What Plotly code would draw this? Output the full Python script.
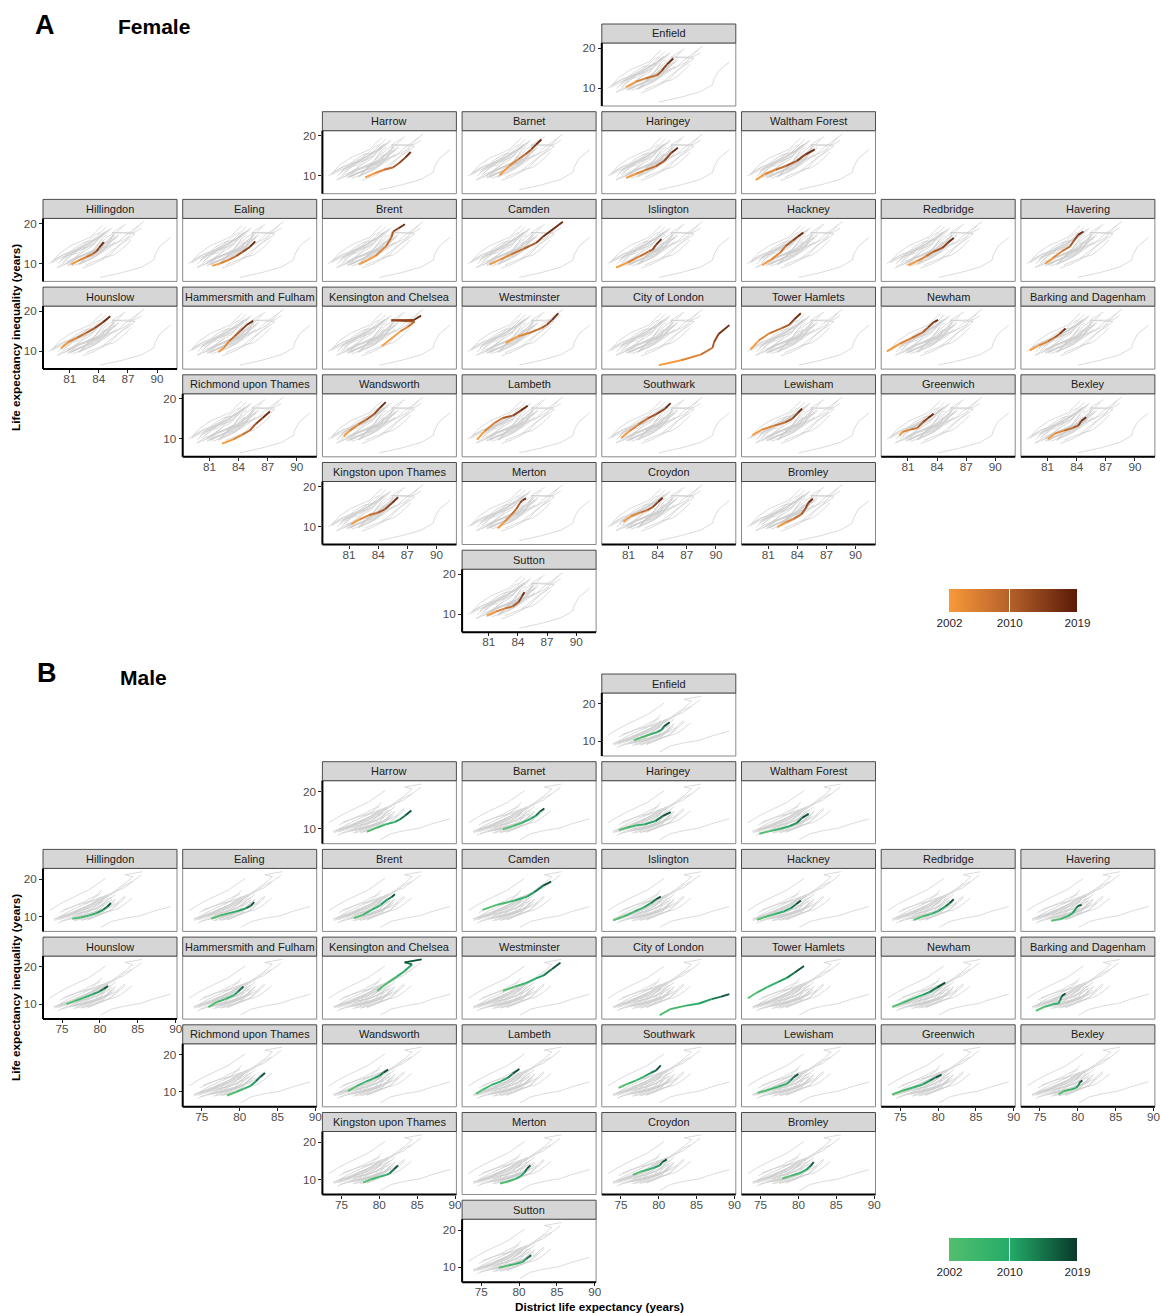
import plotly.graph_objects as go
from plotly.colors import sample_colorscale

# ---------------------------------------------------------------------------
# Data: London boroughs on a geographic grid, with district life expectancy
# and life expectancy inequality trajectories (2002-2019) by sex.
# ---------------------------------------------------------------------------
BOROUGHS = [
    "Enfield",
    "Harrow", "Barnet", "Haringey", "Waltham Forest",
    "Hillingdon", "Ealing", "Brent", "Camden", "Islington", "Hackney", "Redbridge", "Havering",
    "Hounslow", "Hammersmith and Fulham", "Kensington and Chelsea", "Westminster",
    "City of London", "Tower Hamlets", "Newham", "Barking and Dagenham",
    "Richmond upon Thames", "Wandsworth", "Lambeth", "Southwark", "Lewisham", "Greenwich", "Bexley",
    "Kingston upon Thames", "Merton", "Croydon", "Bromley",
    "Sutton",
]
GRID_ROW = [1, 2, 2, 2, 2, 3, 3, 3, 3, 3, 3, 3, 3, 4, 4, 4, 4, 4, 4, 4, 4,
            5, 5, 5, 5, 5, 5, 5, 6, 6, 6, 6, 7]
GRID_COL = [5, 3, 4, 5, 6, 1, 2, 3, 4, 5, 6, 7, 8, 1, 2, 3, 4, 5, 6, 7, 8,
            2, 3, 4, 5, 6, 7, 8, 3, 4, 5, 6, 4]

YEARS = [2002, 2005, 2008, 2011, 2014, 2017, 2019]

# Female district life expectancy (years), one row per borough
FEMALE_LE = [
    [80.75, 81.75, 82.74, 83.95, 84.43, 84.95, 85.61],
    [82.67, 83.66, 84.58, 85.50, 86.13, 86.79, 87.34],
    [82.11, 83.11, 84.03, 84.76, 85.39, 85.87, 86.42],
    [80.75, 81.75, 82.74, 83.77, 84.69, 85.43, 86.09],
    [79.72, 80.64, 81.75, 82.85, 83.95, 84.87, 85.79],
    [81.19, 81.93, 82.67, 83.40, 83.77, 84.06, 84.51],
    [81.30, 82.11, 83.03, 83.77, 84.43, 85.17, 85.72],
    [82.04, 83.70, 84.80, 85.35, 85.54, 86.09, 86.75],
    [81.08, 82.19, 83.29, 84.58, 85.87, 86.60, 88.63],
    [79.72, 80.90, 82.19, 83.11, 83.48, 83.84, 84.40],
    [80.38, 81.30, 82.22, 82.78, 83.51, 84.06, 84.62],
    [81.05, 81.97, 82.89, 83.62, 84.54, 85.09, 85.72],
    [80.75, 81.56, 82.48, 83.33, 83.77, 84.14, 84.69],
    [80.09, 80.83, 81.75, 82.67, 83.59, 84.43, 85.17],
    [81.93, 82.48, 83.03, 83.59, 84.21, 84.87, 85.50],
    [84.36, 86.27, 87.08, 87.74, 85.35, 87.67, 88.41],
    [82.74, 84.03, 85.13, 86.42, 86.97, 87.52, 88.15],
    [84.14, 86.42, 88.44, 89.66, 89.81, 90.28, 91.39],
    [79.17, 80.02, 81.12, 82.41, 83.14, 83.70, 84.36],
    [78.84, 80.13, 81.41, 82.52, 83.07, 83.62, 84.10],
    [79.17, 80.09, 81.01, 81.75, 82.22, 82.59, 82.85],
    [82.30, 83.40, 84.42, 85.18, 85.80, 86.48, 87.24],
    [80.45, 81.06, 81.92, 82.78, 83.57, 84.15, 84.77],
    [79.79, 80.55, 81.58, 82.43, 83.46, 84.32, 85.01],
    [80.24, 81.09, 82.01, 82.94, 83.86, 84.78, 85.33],
    [79.36, 80.35, 81.64, 82.75, 83.49, 84.04, 84.49],
    [80.13, 80.43, 81.24, 81.98, 82.53, 83.08, 83.64],
    [81.02, 81.76, 82.68, 83.60, 84.15, 84.45, 84.97],
    [81.23, 82.09, 83.05, 83.98, 84.66, 85.45, 86.04],
    [81.92, 82.61, 83.29, 83.81, 84.22, 84.49, 84.84],
    [80.46, 81.28, 82.20, 82.94, 83.49, 84.04, 84.52],
    [81.94, 82.75, 83.67, 84.41, 84.78, 85.15, 85.59],
    [80.79, 81.75, 82.61, 83.46, 84.08, 84.42, 84.66],
]
# Female life expectancy inequality (years)
FEMALE_GAP = [
    [10.19, 11.59, 12.41, 13.23, 14.30, 15.95, 17.43],
    [9.61, 10.68, 11.51, 12.08, 13.15, 14.55, 15.95],
    [10.19, 12.49, 14.14, 15.37, 16.61, 17.84, 19.08],
    [9.45, 10.44, 11.42, 12.33, 13.73, 15.79, 17.02],
    [8.95, 10.44, 11.51, 12.49, 13.73, 15.37, 16.61],
    [9.78, 10.77, 11.59, 12.41, 13.07, 14.06, 15.37],
    [9.37, 10.02, 10.93, 11.84, 12.91, 14.14, 15.54],
    [9.78, 11.84, 14.30, 16.53, 18.01, 18.83, 19.82],
    [9.78, 11.01, 12.25, 13.65, 15.13, 16.77, 20.48],
    [8.95, 10.19, 11.84, 13.07, 13.48, 14.72, 16.12],
    [9.53, 11.01, 12.66, 14.30, 15.70, 16.77, 17.76],
    [9.53, 10.60, 11.84, 12.91, 13.89, 15.13, 16.36],
    [9.94, 11.42, 13.07, 14.30, 15.95, 17.18, 18.01],
    [10.68, 12.25, 13.32, 14.55, 15.79, 17.27, 18.75],
    [9.78, 10.85, 12.49, 13.73, 15.13, 16.61, 17.60],
    [11.26, 14.96, 16.12, 17.43, 17.76, 17.80, 18.91],
    [12.08, 13.73, 14.55, 15.79, 16.61, 17.84, 19.49],
    [6.49, 7.72, 9.12, 10.85, 12.25, 14.30, 16.53],
    [10.44, 12.66, 14.47, 15.79, 16.61, 18.01, 19.49],
    [9.94, 11.84, 13.32, 14.72, 15.95, 17.18, 17.84],
    [10.19, 11.42, 12.41, 13.48, 14.30, 15.13, 15.70],
    [8.82, 9.82, 11.07, 12.15, 13.81, 15.23, 16.89],
    [10.65, 12.06, 13.56, 14.81, 16.22, 17.72, 19.22],
    [9.82, 11.90, 13.98, 15.23, 15.81, 17.14, 18.30],
    [10.23, 11.90, 13.56, 15.06, 16.22, 17.56, 18.97],
    [10.90, 12.31, 13.31, 14.14, 15.06, 16.47, 17.56],
    [10.82, 11.73, 12.31, 12.73, 14.14, 15.23, 16.31],
    [9.98, 11.32, 12.06, 12.73, 13.31, 14.39, 15.39],
    [10.57, 11.82, 12.90, 13.48, 14.31, 15.98, 17.39],
    [9.57, 11.15, 12.90, 14.31, 15.98, 16.64, 17.06],
    [11.23, 12.65, 13.48, 14.14, 14.89, 16.14, 17.22],
    [9.90, 10.98, 11.98, 13.06, 14.31, 15.98, 16.97],
    [9.65, 10.73, 11.40, 11.98, 13.06, 14.48, 15.56],
]
# Male district life expectancy (years)
MALE_LE = [
    [76.73, 77.67, 78.85, 79.80, 80.41, 80.74, 81.45],
    [78.38, 79.65, 80.83, 82.01, 82.72, 83.43, 84.23],
    [77.86, 79.18, 80.36, 81.54, 82.25, 82.82, 83.34],
    [74.75, 75.78, 76.96, 78.14, 79.56, 80.50, 81.59],
    [74.84, 76.26, 77.67, 78.85, 79.80, 80.50, 81.35],
    [76.35, 77.44, 78.62, 79.56, 80.41, 80.98, 81.45],
    [76.26, 77.44, 78.62, 79.80, 80.88, 81.45, 81.92],
    [76.63, 77.81, 78.99, 80.17, 81.12, 81.59, 82.06],
    [75.17, 77.06, 79.42, 81.07, 82.01, 83.19, 84.23],
    [73.99, 75.41, 76.82, 78.00, 78.95, 79.65, 80.27],
    [74.51, 75.45, 76.87, 78.05, 78.99, 79.70, 80.32],
    [76.78, 77.96, 79.14, 80.08, 80.93, 81.50, 82.06],
    [76.49, 77.67, 78.62, 79.32, 79.80, 80.03, 80.50],
    [75.55, 76.73, 77.91, 79.09, 79.94, 80.50, 81.07],
    [75.88, 76.96, 78.14, 79.32, 79.80, 80.27, 80.50],
    [79.70, 81.12, 82.30, 83.34, 84.33, 83.34, 85.60],
    [77.86, 79.42, 80.83, 82.25, 83.19, 84.37, 85.46],
    [80.13, 81.54, 83.43, 85.32, 86.97, 88.15, 89.33],
    [73.33, 74.51, 75.93, 77.34, 78.52, 79.47, 80.74],
    [73.94, 75.36, 76.78, 77.96, 78.90, 79.84, 80.93],
    [74.46, 75.55, 76.73, 77.44, 77.67, 77.91, 78.38],
    [78.33, 79.52, 80.62, 81.50, 82.16, 82.73, 83.35],
    [75.87, 76.97, 78.29, 79.39, 80.05, 80.58, 81.15],
    [74.33, 75.21, 76.31, 77.63, 78.51, 79.17, 80.05],
    [74.70, 75.88, 77.06, 78.14, 78.95, 79.65, 80.27],
    [74.60, 75.88, 77.29, 78.47, 78.95, 79.42, 79.98],
    [73.94, 75.36, 76.78, 77.96, 78.90, 79.70, 80.46],
    [77.44, 78.14, 79.09, 79.80, 80.13, 80.27, 80.60],
    [77.85, 78.95, 80.05, 80.93, 81.37, 81.94, 82.47],
    [77.50, 78.51, 79.61, 80.27, 80.71, 81.06, 81.50],
    [76.59, 77.53, 78.47, 79.42, 80.13, 80.50, 81.07],
    [77.86, 78.95, 80.13, 80.98, 81.45, 81.68, 82.01],
    [77.32, 78.51, 79.61, 80.48, 80.93, 81.28, 81.59],
]
# Male life expectancy inequality (years)
MALE_GAP = [
    [10.19, 10.90, 11.79, 12.41, 13.12, 14.01, 15.08],
    [9.21, 10.28, 11.17, 11.79, 12.50, 13.57, 14.90],
    [9.83, 10.72, 11.61, 12.68, 13.57, 14.72, 15.43],
    [9.65, 10.28, 10.90, 11.17, 12.05, 13.39, 14.45],
    [8.68, 9.39, 10.01, 10.72, 11.61, 12.94, 14.01],
    [9.39, 9.74, 10.28, 10.90, 11.79, 12.68, 13.57],
    [9.39, 10.28, 10.90, 11.52, 12.23, 12.85, 13.83],
    [9.56, 10.45, 11.79, 13.12, 14.63, 15.17, 15.97],
    [11.79, 13.12, 14.28, 15.34, 16.50, 18.28, 19.34],
    [8.94, 10.01, 11.34, 12.41, 13.57, 14.63, 15.34],
    [9.12, 9.74, 10.63, 11.34, 12.23, 13.30, 14.28],
    [9.12, 10.01, 10.72, 11.52, 12.68, 13.57, 14.63],
    [8.85, 9.30, 10.01, 10.90, 12.23, 12.85, 13.12],
    [10.01, 10.90, 11.79, 12.68, 13.39, 14.10, 14.90],
    [9.21, 10.54, 11.43, 12.50, 13.39, 14.28, 14.72],
    [13.57, 15.79, 17.39, 18.90, 20.68, 21.21, 22.01],
    [13.57, 14.72, 15.61, 16.94, 17.65, 19.43, 21.12],
    [7.08, 8.68, 9.56, 10.19, 11.34, 11.97, 12.68],
    [11.61, 13.12, 14.63, 15.97, 17.12, 18.45, 20.23],
    [9.30, 10.45, 11.61, 12.50, 13.30, 14.45, 15.79],
    [8.23, 9.30, 10.01, 10.19, 11.08, 12.23, 12.85],
    [9.03, 9.92, 10.90, 11.70, 12.85, 14.01, 15.08],
    [10.19, 11.52, 12.85, 13.74, 14.37, 15.25, 15.97],
    [9.48, 10.63, 11.79, 12.85, 13.74, 14.90, 16.14],
    [11.08, 12.14, 13.12, 14.19, 15.08, 15.79, 17.12],
    [9.74, 10.45, 11.34, 12.14, 13.03, 14.01, 14.81],
    [9.30, 10.37, 11.25, 11.97, 13.03, 13.92, 14.63],
    [9.30, 10.19, 10.63, 11.08, 11.97, 12.59, 13.03],
    [9.21, 10.10, 10.81, 11.25, 11.70, 12.77, 13.83],
    [8.94, 9.48, 10.28, 10.99, 11.88, 12.94, 13.83],
    [11.25, 12.05, 12.59, 13.21, 13.83, 14.72, 15.43],
    [10.28, 10.99, 11.70, 12.59, 13.39, 13.83, 14.72],
    [9.83, 10.45, 10.90, 11.43, 12.23, 12.77, 13.21],
]

FEMALE_XTICKS = [81, 84, 87, 90]
MALE_XTICKS = [75, 80, 85, 90]
Y_TICKS = [10, 20]
LEGEND_TICKS = [2002, 2010, 2019]

# ---------------------------------------------------------------------------
# Styling and page geometry (pixels)
# ---------------------------------------------------------------------------
W, H = 1161, 1313
FONT = "Liberation Sans, Arial, Helvetica, sans-serif"
FEMALE_SCALE = [[0.0, "#F8993A"], [0.47, "#B6612A"], [1.0, "#5A1B08"]]
MALE_SCALE = [[0.0, "#53BE6E"], [0.47, "#24AC69"], [1.0, "#083A2B"]]

COL_X0, COL_STEP, PANEL_W = 43.0, 139.7, 134.0
ROW_Y0, ROW_STEP, STRIP_H, PANEL_H = 24.0, 87.7, 19.0, 63.0


def fx(px):
    return px / W


def fy(py):
    return 1.0 - py / H


panels = [
    dict(le=FEMALE_LE, gap=FEMALE_GAP, xrange=[78.25, 92.05], yrange=[5.5, 21.3],
         xticks=FEMALE_XTICKS, scale=FEMALE_SCALE, off=0.0,
         tag="A", tag_xy=(45, 25), title="Female", title_xy=(116, 27),
         cbar_top=589, ytitle_y=338),
    dict(le=MALE_LE, gap=MALE_GAP, xrange=[72.48, 90.18], yrange=[6.0, 22.9],
         xticks=MALE_XTICKS, scale=MALE_SCALE, off=650.0,
         tag="B", tag_xy=(47, 673), title="Male", title_xy=(118, 678),
         cbar_top=1238, ytitle_y=988),
]

# Which facets carry axes: bottom of each column / left of each row
bottom_in_col = {}
left_in_row = {}
for i, (r, c) in enumerate(zip(GRID_ROW, GRID_COL)):
    if c not in bottom_in_col or r > GRID_ROW[bottom_in_col[c]]:
        bottom_in_col[c] = i
    if r not in left_in_row or c < GRID_COL[left_in_row[r]]:
        left_in_row[r] = i
show_x = set(bottom_in_col.values())
show_y = set(left_in_row.values())

fig = go.Figure()
layout = {}
shapes = []
annotations = []
tickfont = dict(family=FONT, size=11.7, color="#4D4D4D")

ax = 0
for p in panels:
    # all trajectories, drawn in grey behind each highlighted borough
    bx, by = [], []
    for xs, ys in zip(p["le"], p["gap"]):
        bx += xs + [None]
        by += ys + [None]

    for i, name in enumerate(BOROUGHS):
        ax += 1
        r, c = GRID_ROW[i], GRID_COL[i]
        left = COL_X0 + (c - 1) * COL_STEP
        right = left + PANEL_W
        s_top = ROW_Y0 + p["off"] + (r - 1) * ROW_STEP
        p_top = s_top + STRIP_H
        p_bot = p_top + PANEL_H
        xname = "xaxis" if ax == 1 else f"xaxis{ax}"
        yname = "yaxis" if ax == 1 else f"yaxis{ax}"
        xref = "x" if ax == 1 else f"x{ax}"
        yref = "y" if ax == 1 else f"y{ax}"

        sx, sy = i in show_x, i in show_y
        layout[xname] = dict(
            domain=[fx(left), fx(right)], range=p["xrange"], anchor=yref,
            showgrid=False, zeroline=False, showline=False,
            showticklabels=sx, ticks="outside" if sx else "",
            tickvals=p["xticks"], ticklen=3, tickwidth=1, tickcolor="#222222",
            tickfont=tickfont, ticklabelstandoff=-4, fixedrange=True,
        )
        layout[yname] = dict(
            domain=[fy(p_bot), fy(p_top)], range=p["yrange"], anchor=xref,
            showgrid=False, zeroline=False, showline=False,
            showticklabels=sy, ticks="outside" if sy else "",
            tickvals=Y_TICKS, ticklen=3, tickwidth=1, tickcolor="#222222",
            tickfont=tickfont, fixedrange=True,
        )

        fig.add_trace(go.Scatter(
            x=bx, y=by, mode="lines", xaxis=xref, yaxis=yref,
            line=dict(color="#CBCBCB", width=0.7), hoverinfo="skip",
            showlegend=False,
        ))

        xs, ys = p["le"][i], p["gap"][i]
        for k in range(len(YEARS) - 1):
            t = (YEARS[k] - YEARS[0]) / (YEARS[-1] - YEARS[0])
            col = sample_colorscale(p["scale"], [t])[0]
            fig.add_trace(go.Scatter(
                x=xs[k:k + 2], y=ys[k:k + 2], mode="lines",
                xaxis=xref, yaxis=yref,
                line=dict(color=col, width=1.9), hoverinfo="skip",
                showlegend=False,
            ))

        # panel border and strip
        shapes.append(dict(type="rect", xref="paper", yref="paper",
                           x0=fx(left), x1=fx(right), y0=fy(p_bot), y1=fy(p_top),
                           line=dict(color="#8A8A8A", width=1), layer="above"))
        shapes.append(dict(type="rect", xref="paper", yref="paper",
                           x0=fx(left), x1=fx(right), y0=fy(p_top), y1=fy(s_top),
                           fillcolor="#D6D6D6", line=dict(color="#3A3A3A", width=0.9),
                           layer="above"))
        annotations.append(dict(
            x=fx((left + right) / 2), y=fy(s_top + STRIP_H / 2), xref="paper", yref="paper",
            text=name, showarrow=False, xanchor="center", yanchor="middle",
            font=dict(family=FONT, size=11, color="#1A1A1A"),
        ))
        if sx:
            shapes.append(dict(type="line", xref="paper", yref="paper",
                               x0=fx(left), x1=fx(right), y0=fy(p_bot), y1=fy(p_bot),
                               line=dict(color="black", width=2), layer="above"))
        if sy:
            shapes.append(dict(type="line", xref="paper", yref="paper",
                               x0=fx(left), x1=fx(left), y0=fy(p_bot), y1=fy(p_top),
                               line=dict(color="black", width=2), layer="above"))

    # year colour bar
    fig.add_trace(go.Scatter(
        x=[None, None], y=[None, None], mode="markers", xaxis=xref, yaxis=yref,
        showlegend=False, hoverinfo="skip",
        marker=dict(color=[YEARS[0], YEARS[-1]], cmin=YEARS[0], cmax=YEARS[-1],
                    colorscale=p["scale"], showscale=True,
                    colorbar=dict(
                        orientation="h", x=fx(1013.5), xanchor="center",
                        y=fy(p["cbar_top"]), yanchor="top",
                        lenmode="pixels", len=128, thicknessmode="pixels", thickness=23,
                        outlinewidth=0, xpad=0, ypad=0,
                        tickvals=LEGEND_TICKS, ticktext=[str(v) for v in LEGEND_TICKS],
                        ticks="inside", ticklen=23, tickwidth=1.2, tickcolor="white",
                        tickfont=dict(family=FONT, size=11.7, color="#1F1F1F"),
                    )),
    ))

    annotations.append(dict(
        x=fx(p["tag_xy"][0]), y=fy(p["tag_xy"][1]), xref="paper", yref="paper",
        text=f"<b>{p['tag']}</b>", showarrow=False, xanchor="center", yanchor="middle",
        font=dict(family=FONT, size=27, color="black"),
    ))
    annotations.append(dict(
        x=fx(p["title_xy"][0]), y=fy(p["title_xy"][1]), xref="paper", yref="paper",
        text=f"<b>{p['title']}</b>", showarrow=False, xanchor="left", yanchor="middle",
        font=dict(family=FONT, size=21, color="black"),
    ))
    annotations.append(dict(
        x=fx(15), y=fy(p["ytitle_y"]), xref="paper", yref="paper",
        text="<b>Life expectancy inequality (years)</b>", showarrow=False,
        textangle=-90, xanchor="center", yanchor="middle",
        font=dict(family=FONT, size=11.7, color="black"),
    ))

annotations.append(dict(
    x=fx(599), y=fy(1306), xref="paper", yref="paper",
    text="<b>District life expectancy (years)</b>", showarrow=False,
    xanchor="center", yanchor="middle",
    font=dict(family=FONT, size=11.7, color="black"),
))

fig.update_layout(
    width=W, height=H, margin=dict(l=0, r=0, t=0, b=0, autoexpand=False),
    paper_bgcolor="white", plot_bgcolor="white",
    font=dict(family=FONT), showlegend=False,
    shapes=shapes, annotations=annotations, **layout,
)

fig.write_html("out.html")
